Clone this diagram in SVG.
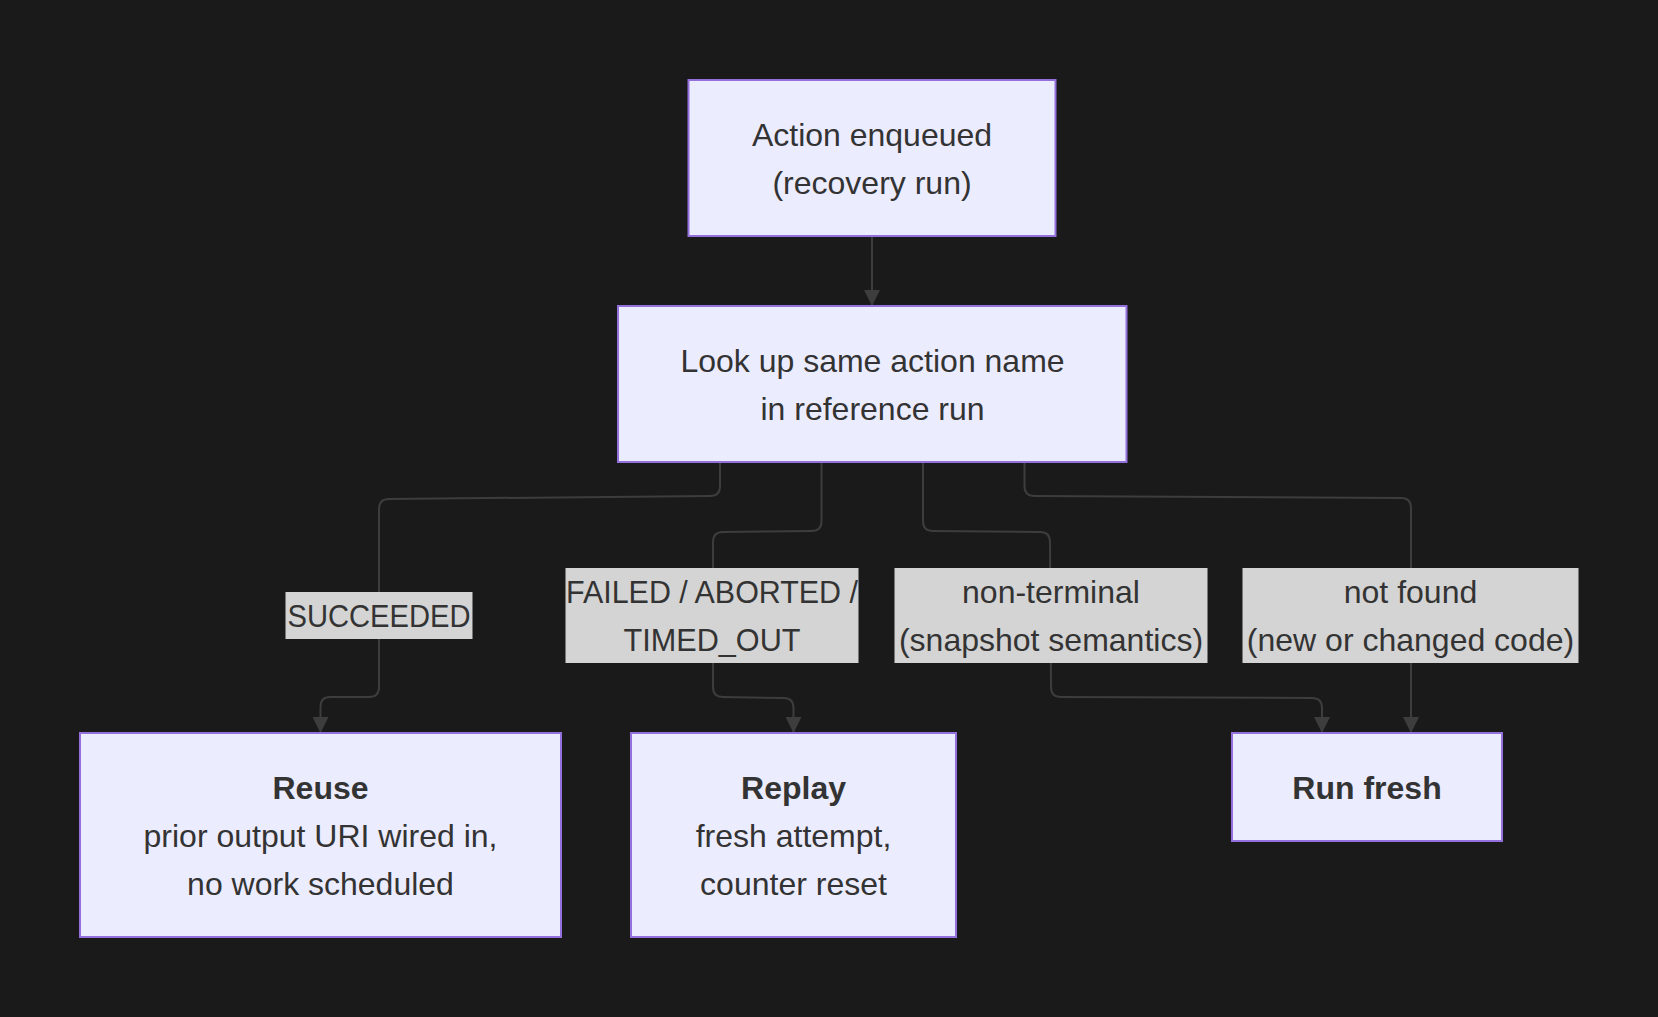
<svg xmlns="http://www.w3.org/2000/svg" width="1658" height="1017" viewBox="0 0 1658 1017">
<defs>
<style>
.node rect{fill:#ECECFF;stroke:#9370DB;stroke-width:2}
.t{font-family:"Liberation Sans",Arial,sans-serif;font-size:32px;fill:#333333;text-anchor:middle}
.b{font-weight:bold}
.edge{fill:none;stroke:#3d3d3d;stroke-width:2}
.lbl rect{fill:#d4d4d4}
</style>
<marker id="arrow" viewBox="0 0 16 16" refX="16" refY="8" markerWidth="16" markerHeight="16" markerUnits="userSpaceOnUse" orient="auto">
<path d="M0,0 L16,8 L0,16 z" fill="#3d3d3d"/>
</marker>
</defs>
<rect x="0" y="0" width="1658" height="1017" fill="#1a1a1a"/>

<g id="connectors">
<path class="edge" marker-end="url(#arrow)" d="M872,236 L872,306"/>
<path class="edge" marker-end="url(#arrow)" d="M720,462 L720,486 Q720,496 710,496 L389,499 Q379,499 379,509 L379,687 Q379,697 369,697 L330,697 Q320.5,697 320.5,707 L320.5,733"/>
<path class="edge" marker-end="url(#arrow)" d="M821.5,462 L821.5,521 Q821.5,531 811.5,531 L723,532 Q713,532 713,542 L713,687 Q713,697 723,697 L783.5,698 Q793.5,698 793.5,708 L793.5,733"/>
<path class="edge" marker-end="url(#arrow)" d="M923,462 L923,521 Q923,531 933,531 L1040,532 Q1050,532 1050,542 L1051,687 Q1051,697 1061,697 L1312,698 Q1322,698 1322,708 L1322,733"/>
<path class="edge" marker-end="url(#arrow)" d="M1024.5,462 L1024.5,486 Q1024.5,496 1034.5,496 L1401,498 Q1411,498 1411,508 L1411,733"/>
</g>

<g id="edge-labels">
<g class="lbl" id="label-succeeded">
<rect x="285.5" y="592" width="187" height="47"/>
<text class="t" x="379" y="627" textLength="183" lengthAdjust="spacingAndGlyphs">SUCCEEDED</text>
</g>
<g class="lbl" id="label-failed">
<rect x="565.5" y="568" width="293" height="95"/>
<text class="t" x="712" y="603" textLength="292" lengthAdjust="spacingAndGlyphs">FAILED / ABORTED /</text>
<text class="t" x="712" y="651" textLength="177" lengthAdjust="spacingAndGlyphs">TIMED_OUT</text>
</g>
<g class="lbl" id="label-nonterminal">
<rect x="894.5" y="568" width="313" height="95"/>
<text class="t" x="1051" y="603">non-terminal</text>
<text class="t" x="1051" y="651">(snapshot semantics)</text>
</g>
<g class="lbl" id="label-notfound">
<rect x="1242.5" y="568" width="336" height="95"/>
<text class="t" x="1410.5" y="603">not found</text>
<text class="t" x="1410.5" y="651">(new or changed code)</text>
</g>
</g>

<g class="node" id="action-enqueued">
<rect x="688.5" y="80" width="367" height="156"/>
<text class="t" x="872" y="146">Action enqueued</text>
<text class="t" x="872" y="194">(recovery run)</text>
</g>

<g class="node" id="lookup">
<rect x="618" y="306" width="508.5" height="156"/>
<text class="t" x="872.5" y="372">Look up same action name</text>
<text class="t" x="872.5" y="420">in reference run</text>
</g>

<g class="node" id="reuse">
<rect x="80" y="733" width="481" height="204"/>
<text class="t b" x="320.5" y="799">Reuse</text>
<text class="t" x="320.5" y="847">prior output URI wired in,</text>
<text class="t" x="320.5" y="895">no work scheduled</text>
</g>

<g class="node" id="replay">
<rect x="631" y="733" width="325" height="204"/>
<text class="t b" x="793.5" y="799">Replay</text>
<text class="t" x="793.5" y="847">fresh attempt,</text>
<text class="t" x="793.5" y="895">counter reset</text>
</g>

<g class="node" id="run-fresh">
<rect x="1232" y="733" width="270" height="108"/>
<text class="t b" x="1367" y="799">Run fresh</text>
</g>
</svg>
